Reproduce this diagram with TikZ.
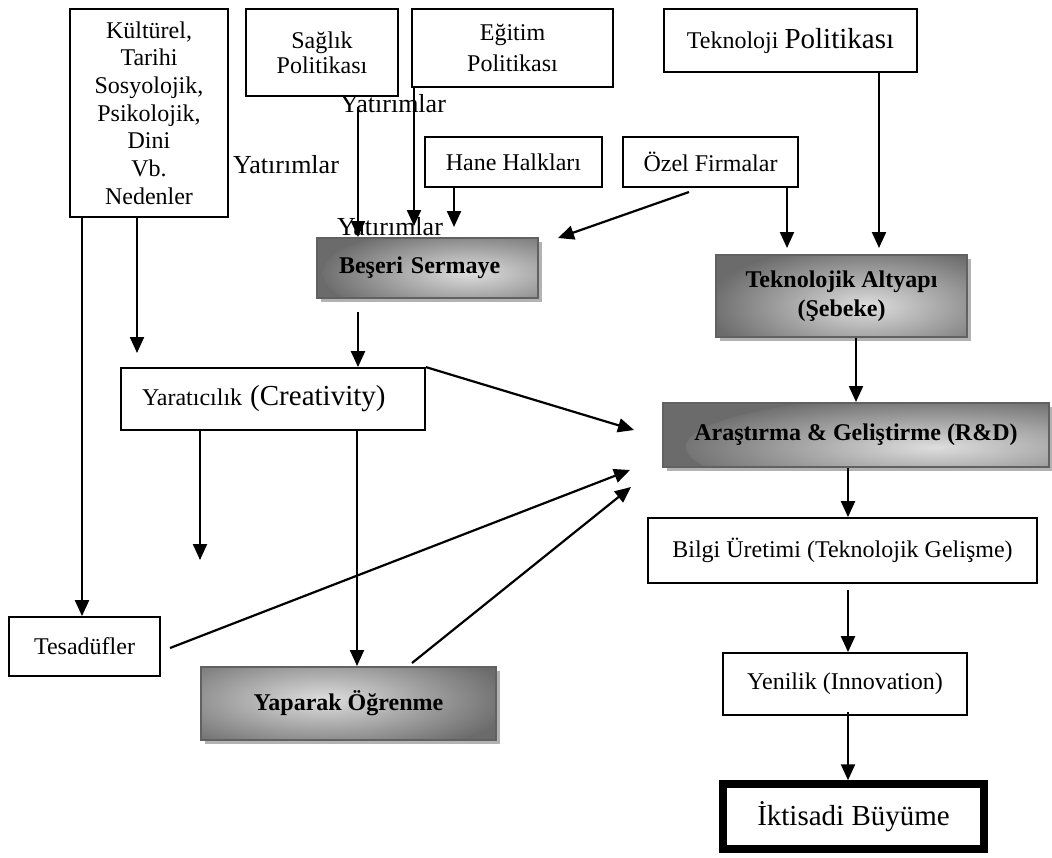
\documentclass[tikz,border=0pt]{standalone}
\usepackage{fontspec}
\setmainfont{Liberation Serif}
\usetikzlibrary{arrows.meta,shadows}
\newcommand\myfs[2]{\fontsize{#1}{#2}\selectfont}
\tikzset{
  box/.style={draw=black, line width=1.8pt, fill=white, inner sep=0pt, align=center, font=\myfs{24}{27.7}},
  gbox/.style={draw=black!62, line width=2pt, fill=black!58,
    drop shadow={shadow xshift=3.5pt, shadow yshift=-3.5pt, fill=black!30, opacity=1},
    inner sep=0pt, align=center, font=\bfseries\myfs{24}{29}},
  glow/.style n args={4}{path picture={\shade[inner color=black!13, outer color=black!58]
    ([shift={(#1,#2)}]path picture bounding box.center) ellipse (#3pt and #4pt);}},
  arr/.style={line width=2.2pt, -{Triangle[length=16pt,width=14pt]}},
  lbl/.style={inner sep=0pt, anchor=base west, font=\myfs{26}{30}}
}
\begin{document}
\begin{tikzpicture}[x=1pt,y=-1pt]
\useasboundingbox (0,0) rectangle (1052,857);
% top boxes
\node[box, minimum width=158, minimum height=208] (kult) at (149,113)
  {Kültürel,\\Tarihi\\Sosyolojik,\\Psikolojik,\\Dini\\Vb.\\Nedenler};
\node[box, minimum width=152, minimum height=87, font=\myfs{24}{25}] (saglik) at (322,52.5) {Sağlık\\Politikası};
\node[box, minimum width=201, minimum height=78, font=\myfs{24}{31}] (egitim) at (512.5,48) {Eğitim\\Politikası};
\node[box, minimum width=253, minimum height=63] (tekpol) at (790.5,40.5) {Teknoloji {\myfs{29}{33}Politikası}};
\node[box, minimum width=177, minimum height=50] (hane) at (513.5,162) {Hane Halkları};
\node[box, minimum width=175, minimum height=50] (ozel) at (710.5,162) {Özel Firmalar};
% labels
\node[lbl] (y1) at (340,112) {Yatırımlar};
\node[lbl] (y2) at (233,173) {Yatırımlar};
\node[lbl] (y3) at (337,235) {Yatırımlar};
% gradient boxes
\node[gbox, glow={45}{5}{150}{48}, minimum height=60, text width=177, inner xsep=22, align=left] (beseri) at (427.5,268) {Beşeri Sermaye};
\node[gbox, glow={25}{10}{160}{62}, minimum width=251, minimum height=82] (tekalt) at (841.5,296) {Teknolojik Altyapı\\(Şebeke)};
\node[gbox, glow={90}{12}{260}{52}, minimum width=386, minimum height=64] (rd) at (856,435) {Araştırma \& Geliştirme (R\&D)};
\node[gbox, glow={-25}{-4}{190}{58}, minimum width=295, minimum height=73] (yaparak) at (348.5,703.5) {Yaparak Öğrenme};
% other boxes
\node[box, minimum height=62, text width=262, inner xsep=21, align=left] (yarat) at (273,399)
  {Yaratıcılık {\myfs{29}{33}(Creativity)}};
\node[box, minimum width=389, minimum height=65] (bilgi) at (842.5,550.5) {\raisebox{4pt}{Bilgi Üretimi (Teknolojik Gelişme)}};
\node[box, minimum width=244, minimum height=62] (yenilik) at (845,684) {\raisebox{4pt}{Yenilik (Innovation)}};
\node[box, minimum width=151, minimum height=59] (tesad) at (84.5,646.5) {Tesadüfler};
\node[box, line width=7.5pt, minimum width=261, minimum height=65, font=\myfs{29}{33}] (iktisadi) at (853.5,816.5) {İktisadi Büyüme};
% coordinates
\coordinate (s1) at (358,107);
\coordinate (e1) at (414,87);
\coordinate (e2) at (414,226);
\coordinate (h2) at (454,227);
\coordinate (o1) at (689,192);
\coordinate (o2) at (558,238);
\coordinate (o3) at (787,187);
\coordinate (o4) at (787,248);
\coordinate (t1) at (879,72);
\coordinate (t2) at (879,248);
\coordinate (k1) at (82,217);
\coordinate (k2) at (137,217);
\coordinate (k3) at (137,353);
\coordinate (b1) at (358,312);
\coordinate (r1) at (634,430);
\coordinate (r2) at (630,470);
\coordinate (r3) at (631,487);
\coordinate (c1) at (200,430);
\coordinate (c2) at (200,560);
\coordinate (c3) at (357,430);
\coordinate (ts) at (170,648);
\coordinate (yp) at (412,663);
\coordinate (bl) at (848,590);
\coordinate (yn) at (848,712);
% arrows
\draw[arr] (s1) -- (s1 |- beseri.north);
\draw[arr] (e1) -- (e2);
\draw[arr] (hane.south -| h2) -- (h2);
\draw[arr] (o1) -- (o2);
\draw[arr] (o3) -- (o4);
\draw[arr] (t1) -- (t2);
\draw[arr] (k1) -- (k1 |- tesad.north);
\draw[arr] (k2) -- (k3);
\draw[arr] (b1) -- (b1 |- yarat.north);
\draw[arr] (tekalt.south -| rd.north) -- (rd.north);
\draw[arr] (yarat.north east) -- (r1);
\draw[arr] (c1) -- (c2);
\draw[arr] (c3) -- (c3 |- yaparak.north);
\draw[arr] (ts) -- (r2);
\draw[arr] (yp) -- (r3);
\draw[arr] (rd.south -| bl) -- (bl |- bilgi.north);
\draw[arr] (bl) -- (bl |- yenilik.north);
\draw[arr] (yn) -- (yn |- iktisadi.north);
\end{tikzpicture}
\end{document}
